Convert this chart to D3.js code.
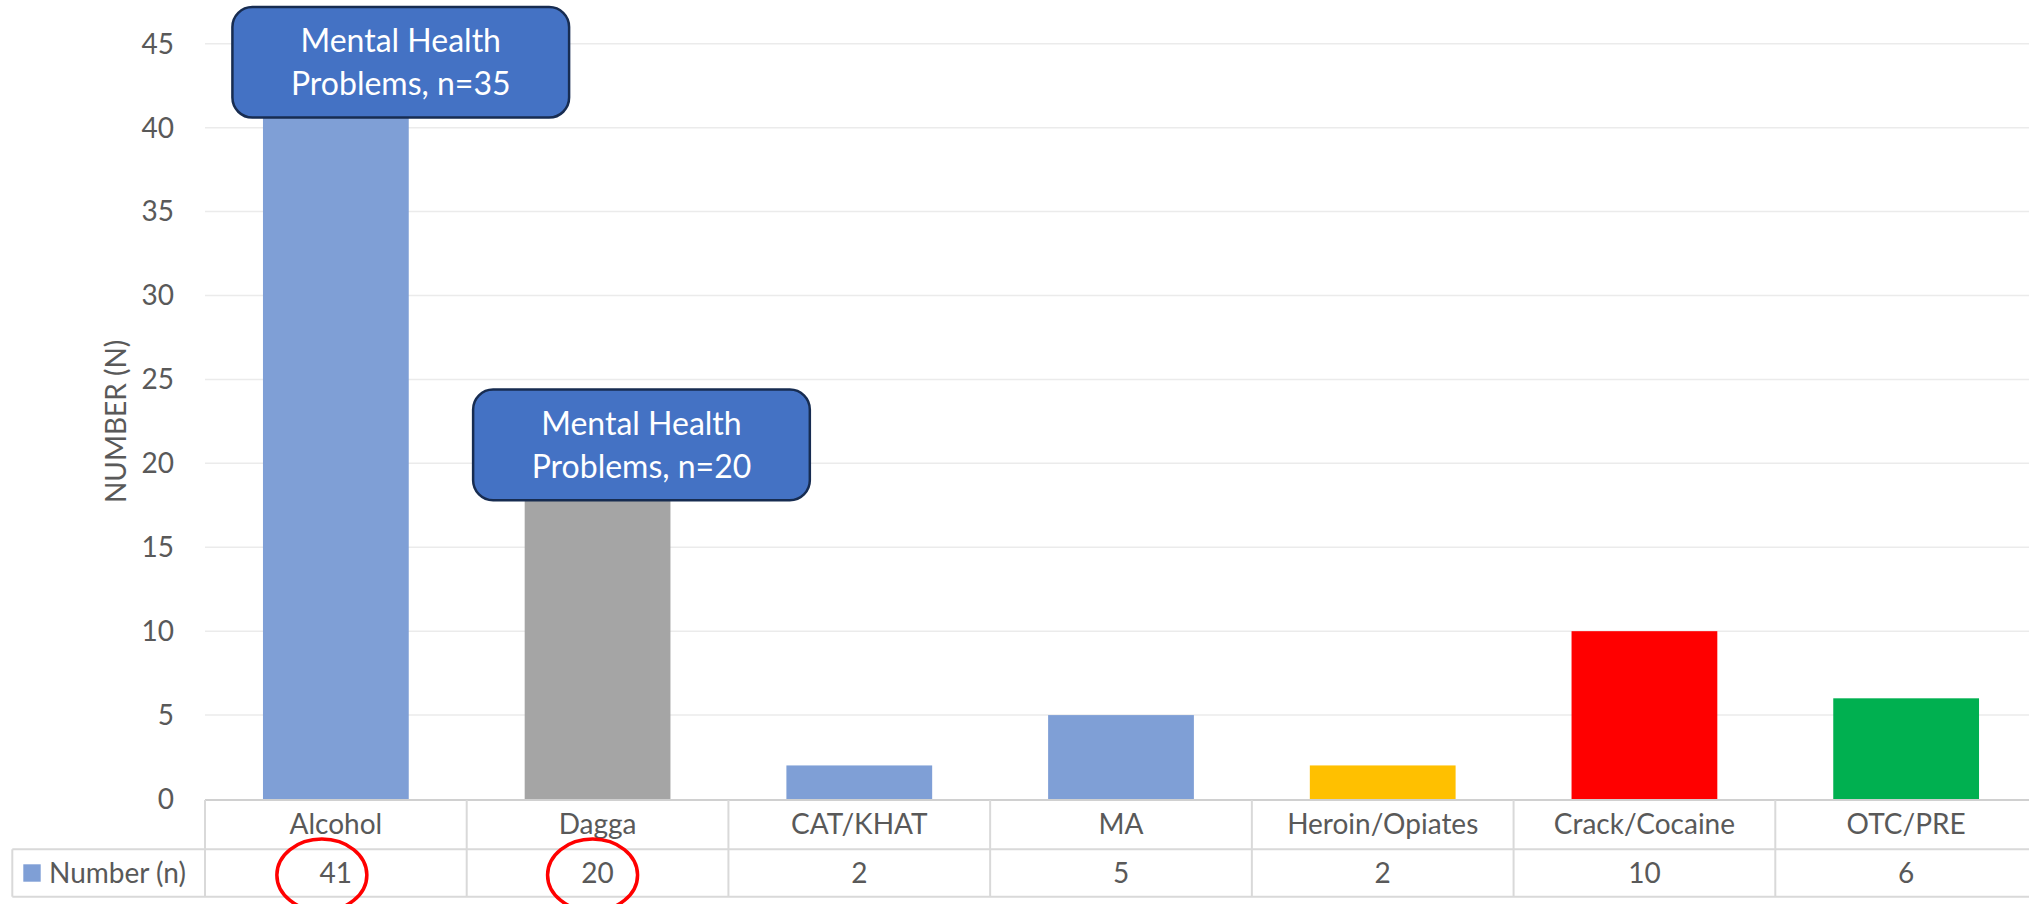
<!DOCTYPE html>
<html>
<head>
<meta charset="utf-8">
<script src="https://cdn.jsdelivr.net/npm/d3@7"></script>
<style>
  html, body { margin: 0; padding: 0; background: #fff; overflow: hidden; }
  svg { display: block; }
</style>
</head>
<body>
<svg id="chart"></svg>
<script>
// ---------- data ----------
const categories = ["Alcohol", "Dagga", "CAT/KHAT", "MA", "Heroin/Opiates", "Crack/Cocaine", "OTC/PRE"];
const values = [41, 20, 2, 5, 2, 10, 6];
const barColors = ["#7f9fd6", "#a5a5a5", "#7f9fd6", "#7f9fd6", "#ffc000", "#ff0000", "#00b050"];
const yTicks = [0, 5, 10, 15, 20, 25, 30, 35, 40, 45];
const seriesName = "Number (n)";
const axisTitle = "NUMBER (N)";
const calloutCats = ["Alcohol", "Dagga"];
const calloutTexts = [["Mental Health", "Problems, n=35"], ["Mental Health", "Problems, n=20"]];
const calloutLevels = [43.9, 21.1];   // y value at the box centre
const circledCats = ["Alcohol", "Dagga"];

// ---------- layout ----------
const W = 2029, H = 904;
const font = "Lato, 'Open Sans', sans-serif";
const textCol = "#595959";
const plot = { left: 205, right: 2037, top: 43.8, bottom: 799 };
const table = { top: 800, mid: 849.3, bottom: 896.7, legendLeft: 12.3 };
const calloutDx = [64.9, 43.9];       // hand placed, like the original
const circleDx = [-14, -5];

const svg = d3.select("#chart").attr("width", W).attr("height", H);

const x = d3.scaleBand()
  .domain(categories)
  .range([plot.left, plot.right])
  .paddingInner(0.443)
  .paddingOuter(0.2215);

const y = d3.scaleLinear().domain([0, 45]).range([plot.bottom, plot.top]);

const step = x.step();
const colLeft = (c) => x(c) - x.paddingInner() * step / 2;
const colMid = (c) => x(c) + x.bandwidth() / 2;

// gridlines
svg.append("g")
  .selectAll("line")
  .data(yTicks.filter(t => t > 0))
  .join("line")
  .attr("x1", plot.left).attr("x2", W)
  .attr("y1", d => y(d)).attr("y2", d => y(d))
  .attr("stroke", "#ebebeb").attr("stroke-width", 1.5);

// y tick labels
svg.append("g")
  .selectAll("text")
  .data(yTicks)
  .join("text")
  .attr("x", 174)
  .attr("y", d => y(d))
  .attr("dy", "0.35em")
  .attr("text-anchor", "end")
  .attr("font-family", font).attr("font-size", 28)
  .attr("fill", textCol)
  .text(d => d);

// axis title
svg.append("text")
  .attr("transform", `translate(126,${(plot.top + plot.bottom) / 2}) rotate(-90)`)
  .attr("text-anchor", "middle")
  .attr("font-family", font).attr("font-size", 28)
  .attr("fill", textCol)
  .text(axisTitle);

// bars
svg.append("g")
  .selectAll("rect")
  .data(categories)
  .join("rect")
  .attr("x", d => x(d))
  .attr("width", x.bandwidth())
  .attr("y", (d, i) => y(values[i]))
  .attr("height", (d, i) => y(0) - y(values[i]))
  .attr("fill", (d, i) => barColors[i]);

// ---------- data table ----------
const tg = svg.append("g");
const lineCol = "#d9d9d9";
const hline = (x1, x2, yy, col, w) => tg.append("line")
  .attr("x1", x1).attr("x2", x2).attr("y1", yy).attr("y2", yy)
  .attr("stroke", col).attr("stroke-width", w);
const vline = (xx, y1, y2) => tg.append("line")
  .attr("x1", xx).attr("x2", xx).attr("y1", y1).attr("y2", y2)
  .attr("stroke", lineCol).attr("stroke-width", 2);

hline(plot.left, plot.right, table.top, "#d0d0d0", 2.2);
hline(table.legendLeft, plot.right, table.mid, lineCol, 2);
hline(table.legendLeft, plot.right, table.bottom, lineCol, 2);
vline(table.legendLeft, table.mid, table.bottom);
categories.forEach(c => vline(colLeft(c), table.top, table.bottom));
vline(plot.right, table.top, table.bottom);

tg.selectAll("text.cat")
  .data(categories)
  .join("text")
  .attr("class", "cat")
  .attr("x", d => colMid(d))
  .attr("y", (table.top + table.mid) / 2)
  .attr("dy", "0.35em")
  .attr("text-anchor", "middle")
  .attr("font-family", font).attr("font-size", 28)
  .attr("fill", textCol)
  .text(d => d);

tg.selectAll("text.val")
  .data(categories)
  .join("text")
  .attr("class", "val")
  .attr("x", d => colMid(d))
  .attr("y", (table.mid + table.bottom) / 2)
  .attr("dy", "0.35em")
  .attr("text-anchor", "middle")
  .attr("font-family", font).attr("font-size", 28)
  .attr("fill", textCol)
  .text((d, i) => values[i]);

// legend key
const rowMid = (table.mid + table.bottom) / 2;
tg.append("rect")
  .attr("x", 23.3).attr("y", rowMid - 8.7)
  .attr("width", 17.4).attr("height", 17.4)
  .attr("fill", barColors[0]);
tg.append("text")
  .attr("x", 49)
  .attr("y", rowMid)
  .attr("dy", "0.35em")
  .attr("font-family", font).attr("font-size", 28)
  .attr("fill", textCol)
  .text(seriesName);

// red circles around table values
svg.append("g")
  .selectAll("ellipse")
  .data(circledCats)
  .join("ellipse")
  .attr("cx", (d, i) => colMid(d) + circleDx[i])
  .attr("cy", rowMid + 2)
  .attr("rx", 45).attr("ry", 36)
  .attr("fill", "none")
  .attr("stroke", "#ff0000").attr("stroke-width", 3.5);

// ---------- callouts ----------
const boxW = 336.7, boxH = 110.7;
const cg = svg.append("g");
calloutCats.forEach((c, i) => {
  const cx = colMid(c) + calloutDx[i];
  const cy = y(calloutLevels[i]);
  cg.append("rect")
    .attr("x", cx - boxW / 2).attr("y", cy - boxH / 2)
    .attr("width", boxW).attr("height", boxH)
    .attr("rx", 20).attr("ry", 20)
    .attr("fill", "#4472c4")
    .attr("stroke", "#172c51").attr("stroke-width", 2.5);
  calloutTexts[i].forEach((t, j) => {
    cg.append("text")
      .attr("x", cx)
      .attr("y", cy - 10 + j * 43)
      .attr("text-anchor", "middle")
      .attr("font-family", font).attr("font-size", 32)
      .attr("fill", "#ffffff")
      .text(t);
  });
});
</script>
</body>
</html>
